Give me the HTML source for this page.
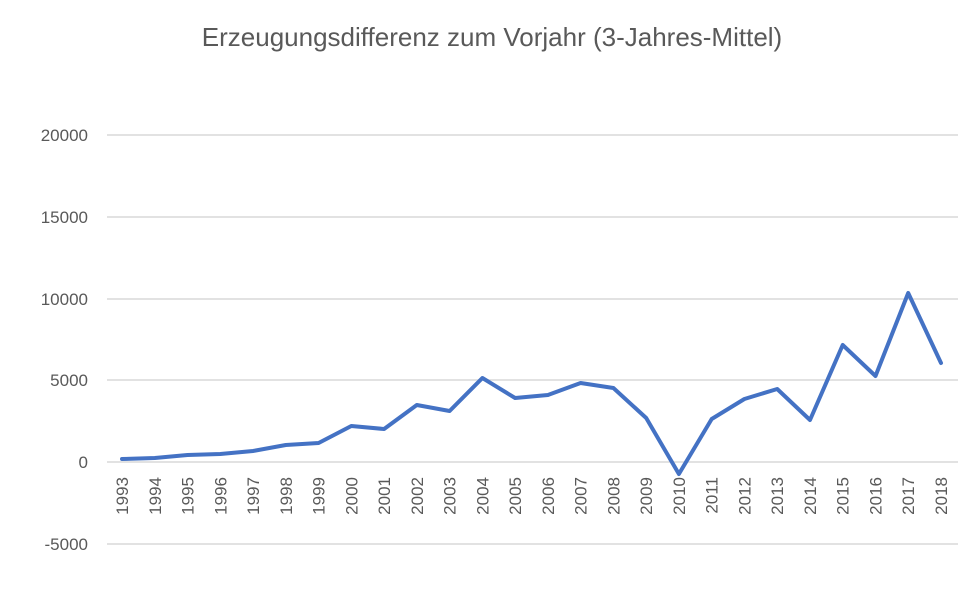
<!DOCTYPE html>
<html><head><style>body{margin:0;background:#fff}</style></head><body>
<svg width="974" height="597" xmlns="http://www.w3.org/2000/svg" font-family="Liberation Sans, sans-serif">
<rect width="974" height="597" fill="#fff"/>
<text x="492" y="46" text-anchor="middle" font-size="26" fill="#595959">Erzeugungsdifferenz zum Vorjahr (3-Jahres-Mittel)</text>
<g stroke="#d9d9d9" stroke-width="1.5">
<line x1="107" x2="958" y1="135" y2="135"/><line x1="107" x2="958" y1="217" y2="217"/>
<line x1="107" x2="958" y1="299" y2="299"/><line x1="107" x2="958" y1="380" y2="380"/>
<line x1="107" x2="958" y1="462" y2="462"/><line x1="107" x2="958" y1="544" y2="544"/>
</g>
<g font-size="17" fill="#595959" text-anchor="end">
<text x="88" y="141">20000</text><text x="88" y="223">15000</text><text x="88" y="305">10000</text>
<text x="88" y="386">5000</text><text x="88" y="468">0</text><text x="88" y="550">-5000</text>
</g>
<g font-size="17" fill="#595959" text-anchor="end">
<text transform="translate(128,477) rotate(-90)">1993</text>
<text transform="translate(160.8,477) rotate(-90)">1994</text>
<text transform="translate(193.5,477) rotate(-90)">1995</text>
<text transform="translate(226.3,477) rotate(-90)">1996</text>
<text transform="translate(259,477) rotate(-90)">1997</text>
<text transform="translate(291.8,477) rotate(-90)">1998</text>
<text transform="translate(324.6,477) rotate(-90)">1999</text>
<text transform="translate(357.3,477) rotate(-90)">2000</text>
<text transform="translate(390.1,477) rotate(-90)">2001</text>
<text transform="translate(422.8,477) rotate(-90)">2002</text>
<text transform="translate(455.6,477) rotate(-90)">2003</text>
<text transform="translate(488.4,477) rotate(-90)">2004</text>
<text transform="translate(521.1,477) rotate(-90)">2005</text>
<text transform="translate(553.9,477) rotate(-90)">2006</text>
<text transform="translate(586.6,477) rotate(-90)">2007</text>
<text transform="translate(619.4,477) rotate(-90)">2008</text>
<text transform="translate(652.2,477) rotate(-90)">2009</text>
<text transform="translate(684.9,477) rotate(-90)">2010</text>
<text transform="translate(717.7,477) rotate(-90)">2011</text>
<text transform="translate(750.4,477) rotate(-90)">2012</text>
<text transform="translate(783.2,477) rotate(-90)">2013</text>
<text transform="translate(816,477) rotate(-90)">2014</text>
<text transform="translate(848.7,477) rotate(-90)">2015</text>
<text transform="translate(881.5,477) rotate(-90)">2016</text>
<text transform="translate(914.2,477) rotate(-90)">2017</text>
<text transform="translate(947,477) rotate(-90)">2018</text>
</g>
<polyline fill="none" stroke="#4472c4" stroke-width="4" stroke-linejoin="round" stroke-linecap="round" points="122,459 154.8,458 187.5,455 220.3,454 253,451 285.8,445 318.6,443 351.3,426 384.1,429 416.8,405 449.6,411 482.4,378 515.1,398 547.9,395 580.6,383 613.4,388 646.2,418 678.9,474 711.7,419 744.4,399 777.2,389 810,420 842.7,345 875.5,376 908.2,293 941,363"/>
</svg>
</body></html>
